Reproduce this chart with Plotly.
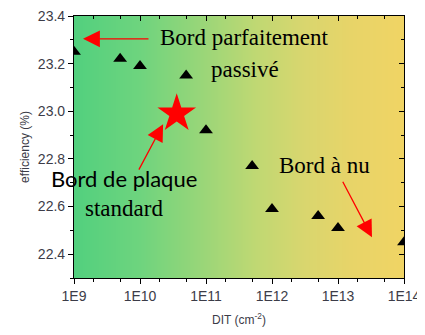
import numpy as np
import plotly.graph_objects as go

# Data
dit = [1e9, 5e9, 1e10, 5e10, 1e11, 5e11, 1e12, 5e12, 1e13, 1e14]
efficiency = [23.25, 23.22, 23.19, 23.15, 22.92, 22.77, 22.59, 22.56, 22.51, 22.45]
star_dit = [3.6e10]
star_eff = [22.99]
x_tickvals = [1e9, 1e10, 1e11, 1e12, 1e13, 1e14]
x_ticktext = ["1E9", "1E10", "1E11", "1E12", "1E13", "1E14"]
y_tickvals = [22.4, 22.6, 22.8, 23.0, 23.2, 23.4]
y_ticktext = ["22.4", "22.6", "22.8", "23.0", "23.2", "23.4"]

XR = [9, 14]
YR = [22.3, 23.4]

fig = go.Figure()

# background gradient
edges = np.logspace(XR[0], XR[1], 331)
zrow = np.linspace(0, 1, 330)
fig.add_trace(go.Heatmap(
    x=edges, y=YR, z=[zrow], showscale=False, hoverinfo="skip",
    colorscale=[[0, "#52D07E"], [0.2, "#6ED47E"], [0.4, "#9CD678"],
                [0.55, "#BFD873"], [0.7, "#D9D66E"], [0.85, "#E8D468"],
                [1, "#F0D464"]],
))

fig.add_trace(go.Scatter(
    x=dit, y=efficiency, mode="markers",
    marker=dict(symbol="triangle-up", size=12, color="black"),
    showlegend=False,
))
fig.add_trace(go.Scatter(
    x=star_dit, y=star_eff, mode="markers",
    marker=dict(symbol="star", size=29, color="#FF0000", line=dict(width=0)),
    showlegend=False,
))
# invisible trace for mirror axes
fig.add_trace(go.Scatter(x=[1e10], y=[23.0], xaxis="x2", yaxis="y2",
                         mode="markers", marker=dict(opacity=0), showlegend=False,
                         hoverinfo="skip"))

tickfont = dict(family="Liberation Sans, Arial", size=14, color="#3C3C48")
titlefont = dict(family="Liberation Sans, Arial", size=12, color="#3C3C48")

fig.update_layout(
    width=425, height=335,
    margin=dict(l=66, r=29, t=8, b=65, autoexpand=False),
    paper_bgcolor="white", plot_bgcolor="white",
    xaxis=dict(type="log", range=XR, tickvals=x_tickvals, ticktext=x_ticktext,
               ticks="outside", ticklen=5, tickwidth=1, tickcolor="black",
               showline=True, linecolor="black", linewidth=1.2, mirror=True,
               showgrid=False, zeroline=False, tickfont=tickfont, automargin=False,
               ticklabeloverflow="allow",
               minor=dict(ticks="outside", ticklen=3, tickcolor="black", showgrid=False),
               title=dict(text="DIT (cm<sup>-2</sup>)", font=titlefont, standoff=12)),
    yaxis=dict(range=YR, tickvals=y_tickvals, ticktext=y_ticktext,
               ticks="outside", ticklen=5, tickwidth=1, tickcolor="black",
               showline=True, linecolor="black", linewidth=1.2, mirror=True,
               showgrid=False, zeroline=False, tickfont=tickfont, automargin=False,
               ticklabeloverflow="allow",
               minor=dict(ticks="outside", ticklen=3, dtick=0.1, tickcolor="black", showgrid=False),
               title=dict(text="efficiency (%)", font=titlefont, standoff=5)),
    xaxis2=dict(type="log", range=XR, overlaying="x", side="top", anchor="y2",
                tickvals=x_tickvals, ticks="inside", ticklen=5, tickcolor="black",
                showticklabels=False, showgrid=False, zeroline=False, automargin=False,
                minor=dict(ticks="inside", ticklen=3, tickcolor="black", showgrid=False)),
    yaxis2=dict(range=YR, overlaying="y", side="right", anchor="x2",
                tickvals=y_tickvals, ticks="inside", ticklen=5, tickcolor="black",
                showticklabels=False, showgrid=False, zeroline=False, automargin=False,
                minor=dict(ticks="inside", ticklen=3, dtick=0.1, tickcolor="black", showgrid=False)),
)

serif = dict(family="Liberation Serif, Times New Roman", size=23, color="black")
sans = dict(family="Lato, Carlito, Calibri", size=22, color="black")

texts = [
    ("Bord parfaitement", 11.59, 23.308, serif),
    ("passivé", 11.59, 23.175, serif),
    ("Bord de plaque", 9.758, 22.717, sans),
    ("standard", 9.758, 22.592, serif),
    ("Bord à nu", 12.80, 22.771, serif),
]
for t, x, y, f in texts:
    fig.add_annotation(text=t, x=x, y=y, xref="x", yref="y", showarrow=False,
                       font=f, xanchor="center", yanchor="middle")

arrows = [
    (9.136, 23.304, 67, 0),
    (10.35, 22.946, -25, 47),
    (13.515, 22.471, -30, -57),
]
for x, y, ax, ay in arrows:
    fig.add_annotation(text="", x=x, y=y, xref="x", yref="y", ax=ax, ay=ay,
                       showarrow=True, arrowhead=2, arrowsize=2.6, arrowwidth=1.3,
                       arrowcolor="#FF0000")

fig.write_html("out.html")
